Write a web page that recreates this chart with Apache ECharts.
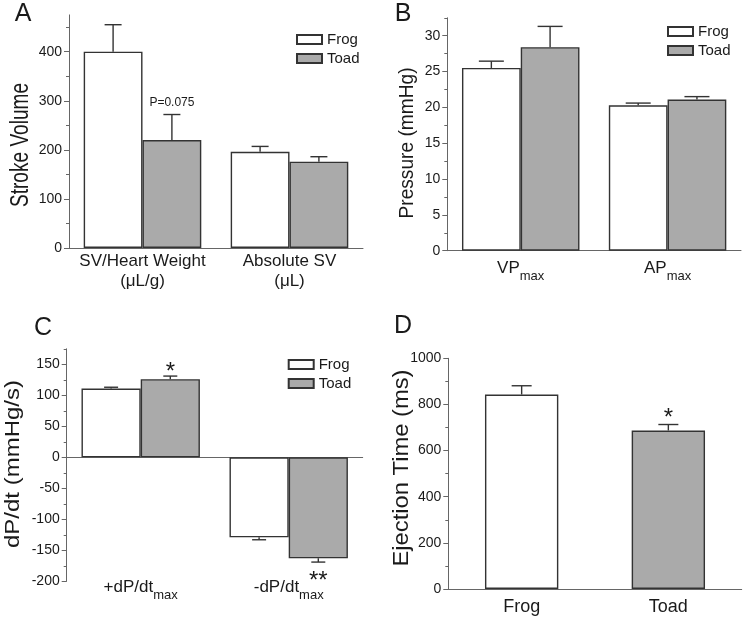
<!DOCTYPE html>
<html><head><meta charset="utf-8">
<script src="https://cdn.jsdelivr.net/npm/echarts@6/dist/echarts.min.js"></script>
<style>html,body{margin:0;padding:0;background:#fff}#c{width:745px;height:617px}</style>
</head><body><div id="c"></div>
<script>
// ---------- DATA ----------
const groupNames = ['Frog', 'Toad'];
// Panel A
const catsA = ['SV/Heart Weight\n(μL/g)', 'Absolute SV\n(μL)'];
const frogA = [400, 196];
const frogAErr = [55, 11];
const toadA = [220, 176];
const toadAErr = [52, 10];
const ticksA = [0, 100, 200, 300, 400];
const minorA = [50, 150, 250, 350, 450];
const annA = [{cat: 0, group: 1, text: 'P=0.075'}];
// Panel B
const catsB = ['VP_max', 'AP_max'];
const frogB = [25.5, 20.3];
const frogBErr = [0.95, 0.3];
const toadB = [28.4, 21.1];
const toadBErr = [2.9, 0.4];
const ticksB = [0, 5, 10, 15, 20, 25, 30];
const minorB = [2.5, 7.5, 12.5, 17.5, 22.5, 27.5, 32.5];
// Panel C
const catsC = ['+dP/dt_max', '-dP/dt_max'];
const frogC = [111, -129];
const frogCErr = [2, 4];
const toadC = [126, -163];
const toadCErr = [5, 6];
const ticksC = [-200, -150, -100, -50, 0, 50, 100, 150];
const minorC = [-175, -125, -75, -25, 25, 75, 125, 175];
const annC = [{cat: 0, group: 1, text: '*'}, {cat: 1, group: 1, text: '**'}];
// Panel D
const catsD = ['Frog', 'Toad'];
const valuesD = [843, 687];
const errD = [38, 26];
const ticksD = [0, 200, 400, 600, 800, 1000];
const minorD = [100, 300, 500, 700, 900];
const annD = [{cat: 1, group: 0, text: '*'}];
// titles
const yTitles = ['Stroke Volume', 'Pressure (mmHg)', 'dP/dt (mmHg/s)', 'Ejection Time (ms)'];
const panelLetters = ['A', 'B', 'C', 'D'];

// ---------- STYLE / LAYOUT ----------
const FF = '"Liberation Sans", Arial, Helvetica, sans-serif';
const TXT = '#1a1a1a';
const AX = '#666';
const BORDER = '#333';
const GRAY = '#aaaaaa';
const grids = [
  {left: 69, top: 14.9, width: 294, height: 233.1},
  {left: 447.3, top: 17.8, width: 293.7, height: 232.9},
  {left: 66.7, top: 348.8, width: 296, height: 232.5},
  {left: 448.3, top: 358.3, width: 293.4, height: 232.4}
];
const ranges = [[0, 475], [0, 32.5], [-200, 175], [0, 1000]];
const ticks = [ticksA, ticksB, ticksC, ticksD];
const minors = [minorA, minorB, minorC, minorD];

function subFmt(v) {
  const i = v.indexOf('_');
  if (i < 0) return v;
  return '{m|' + v.slice(0, i) + '}{sub|' + v.slice(i + 1) + '}';
}

const xAxes = [];
const yAxes = [];
const catList = [catsA, catsB, catsC, catsD];
const labMargins = [3, 9, -2, 8];
for (let i = 0; i < 4; i++) {
  xAxes.push({
    type: 'category', gridIndex: i, data: catList[i],
    axisLine: {show: i !== 2, onZero: i !== 2, lineStyle: {color: AX, width: 1}},
    axisTick: {show: false},
    axisLabel: {
      margin: labMargins[i], color: TXT, fontFamily: FF, fontSize: i === 3 ? 18 : 17, lineHeight: 20,
      formatter: subFmt, interval: 0,
      rich: {
        m: {fontSize: 17, fontFamily: FF, color: TXT, verticalAlign: 'top', lineHeight: 17},
        sub: {fontSize: 13, fontFamily: FF, color: TXT, verticalAlign: 'top', lineHeight: 13, padding: [10, 0, 0, 0]}
      }
    }
  });
}
// zero line for panel C
xAxes.push({
  type: 'category', gridIndex: 2, data: catsC,
  axisLine: {show: true, onZero: true, lineStyle: {color: AX, width: 1}},
  axisTick: {show: false}, axisLabel: {show: false}
});
for (let i = 0; i < 4; i++) {
  yAxes.push({
    type: 'value', gridIndex: i, position: 'left', min: ranges[i][0], max: ranges[i][1],
    axisLine: {show: true, onZero: false, lineStyle: {color: AX, width: 1}},
    axisTick: {show: true, length: 5, customValues: ticks[i], lineStyle: {color: AX}},
    axisLabel: {customValues: ticks[i], margin: 7, color: TXT, fontFamily: FF, fontSize: 14,
      formatter: v => String(v)},
    splitLine: {show: false}
  });
}
for (let i = 0; i < 4; i++) {
  yAxes.push({
    type: 'value', gridIndex: i, position: 'left', min: ranges[i][0], max: ranges[i][1],
    axisLine: {show: false, onZero: false},
    axisTick: {show: true, length: 3, customValues: minors[i], lineStyle: {color: AX}},
    axisLabel: {show: false}, splitLine: {show: false}
  });
}

const series = [];
function barSeries(name, xi, data, color) {
  return {
    type: 'bar', name, xAxisIndex: xi, yAxisIndex: xi, data,
    barGap: '0%', barCategoryGap: '20%', silent: true, animation: false,
    itemStyle: {color, borderColor: BORDER, borderWidth: 1.4}
  };
}
const panelGroups = [
  [[frogA, frogAErr], [toadA, toadAErr]],
  [[frogB, frogBErr], [toadB, toadBErr]],
  [[frogC, frogCErr], [toadC, toadCErr]]
];
for (let p = 0; p < 3; p++) {
  series.push(barSeries(groupNames[0], p, panelGroups[p][0][0], '#ffffff'));
  series.push(barSeries(groupNames[1], p, panelGroups[p][1][0], GRAY));
}
series.push({
  type: 'bar', name: 'Ejection', xAxisIndex: 3, yAxisIndex: 3, silent: true, animation: false,
  barCategoryGap: '50%',
  data: valuesD.map((v, i) => ({value: v, itemStyle: {color: i === 0 ? '#ffffff' : GRAY}})),
  itemStyle: {borderColor: BORDER, borderWidth: 1.4}
});

function errSeries(p, groups, capHalf, gapFrac) {
  const n = groups.length;
  const data = [];
  groups.forEach((g, gi) => g[0].forEach((v, ci) => data.push([ci, v, g[1][ci], gi])));
  return {
    type: 'custom', xAxisIndex: p, yAxisIndex: p, z: 5, silent: true, animation: false, data,
    renderItem: (params, api) => {
      const ci = api.value(0), v = api.value(1), e = api.value(2), gi = api.value(3);
      const band = api.size([1, 0])[0];
      const bw = band * (1 - gapFrac) / n;
      const cx = api.coord([ci, 0])[0] + (gi - (n - 1) / 2) * bw;
      const sgn = v >= 0 ? 1 : -1;
      const y0 = api.coord([ci, v])[1];
      const y1 = api.coord([ci, v + sgn * e])[1];
      const st = {stroke: BORDER, lineWidth: 1.4};
      return {type: 'group', children: [
        {type: 'line', shape: {x1: cx, y1: y0, x2: cx, y2: y1}, style: st},
        {type: 'line', shape: {x1: cx - capHalf, y1: y1, x2: cx + capHalf, y2: y1}, style: st}
      ]};
    }
  };
}
series.push(errSeries(0, panelGroups[0], 8.5, 0.2));
series.push(errSeries(1, panelGroups[1], 12.5, 0.2));
series.push(errSeries(2, panelGroups[2], 7, 0.2));
series.push(errSeries(3, [[valuesD, errD]], 10, 0.5));

function annSeries(p, groups, anns, gapFrac, fontSize, upOff, downOff) {
  const n = groups.length;
  const data = anns.map((a, k) => [a.cat, groups[a.group][0][a.cat], groups[a.group][1][a.cat], a.group, k]);
  return {
    type: 'custom', xAxisIndex: p, yAxisIndex: p, z: 6, silent: true, animation: false, data,
    renderItem: (params, api) => {
      const ci = api.value(0), v = api.value(1), e = api.value(2), gi = api.value(3), k = api.value(4);
      const band = api.size([1, 0])[0];
      const bw = band * (1 - gapFrac) / n;
      const cx = api.coord([ci, 0])[0] + (gi - (n - 1) / 2) * bw;
      const sgn = v >= 0 ? 1 : -1;
      const y1 = api.coord([ci, v + sgn * e])[1];
      return {type: 'text', x: cx, y: y1 + (sgn > 0 ? upOff : downOff),
        style: {text: anns[k].text, fontSize, fontFamily: FF, fill: TXT, align: 'center', verticalAlign: 'middle'}};
    }
  };
}
series.push(annSeries(0, panelGroups[0], annA, 0.2, 12, -12, 12));
series.push(annSeries(2, panelGroups[2], annC, 0.2, 24, -4, 19.5));
series.push(annSeries(3, [[valuesD, errD]], annD, 0.5, 24, -6.5, 10));

// titles
const ctx = document.createElement('canvas').getContext('2d');
function textW(t, size) { ctx.font = size + 'px ' + FF; return ctx.measureText(t).width; }
const titlePos = [[21, 145, 25, 124], [407, 143, 21, 151], [13.5, 464, 21, 168], [402, 468, 22, 197]];
const graphic = [];
yTitles.forEach((t, i) => {
  const [x, y, fs, len] = titlePos[i];
  graphic.push({type: 'text', x, y, rotation: Math.PI / 2, scaleX: len / textW(t, fs), silent: true,
    style: {text: t, fontSize: fs, fontFamily: FF, fill: TXT, align: 'center', verticalAlign: 'middle'}});
});
const letterPos = [[23, 14.5], [403, 14.5], [43, 328], [403, 326]];
panelLetters.forEach((t, i) => {
  graphic.push({type: 'text', x: letterPos[i][0], y: letterPos[i][1], silent: true,
    style: {text: t, fontSize: 25, fontFamily: FF, fill: TXT, align: 'center', verticalAlign: 'middle'}});
});

function legend(left, top) {
  return {data: groupNames, orient: 'vertical', left, top, itemWidth: 25, itemHeight: 9, itemGap: 4,
    selectedMode: false, icon: 'rect',
    textStyle: {fontSize: 15, fontFamily: FF, color: TXT}};
}

const chart = echarts.init(document.getElementById('c'), null, {renderer: 'canvas'});
chart.setOption({
  animation: false,
  backgroundColor: '#ffffff',
  grid: grids,
  xAxis: xAxes,
  yAxis: yAxes,
  legend: [legend(291, 27), legend(662, 19), legend(282.7, 352)],
  series,
  graphic
});
</script>
</body></html>
